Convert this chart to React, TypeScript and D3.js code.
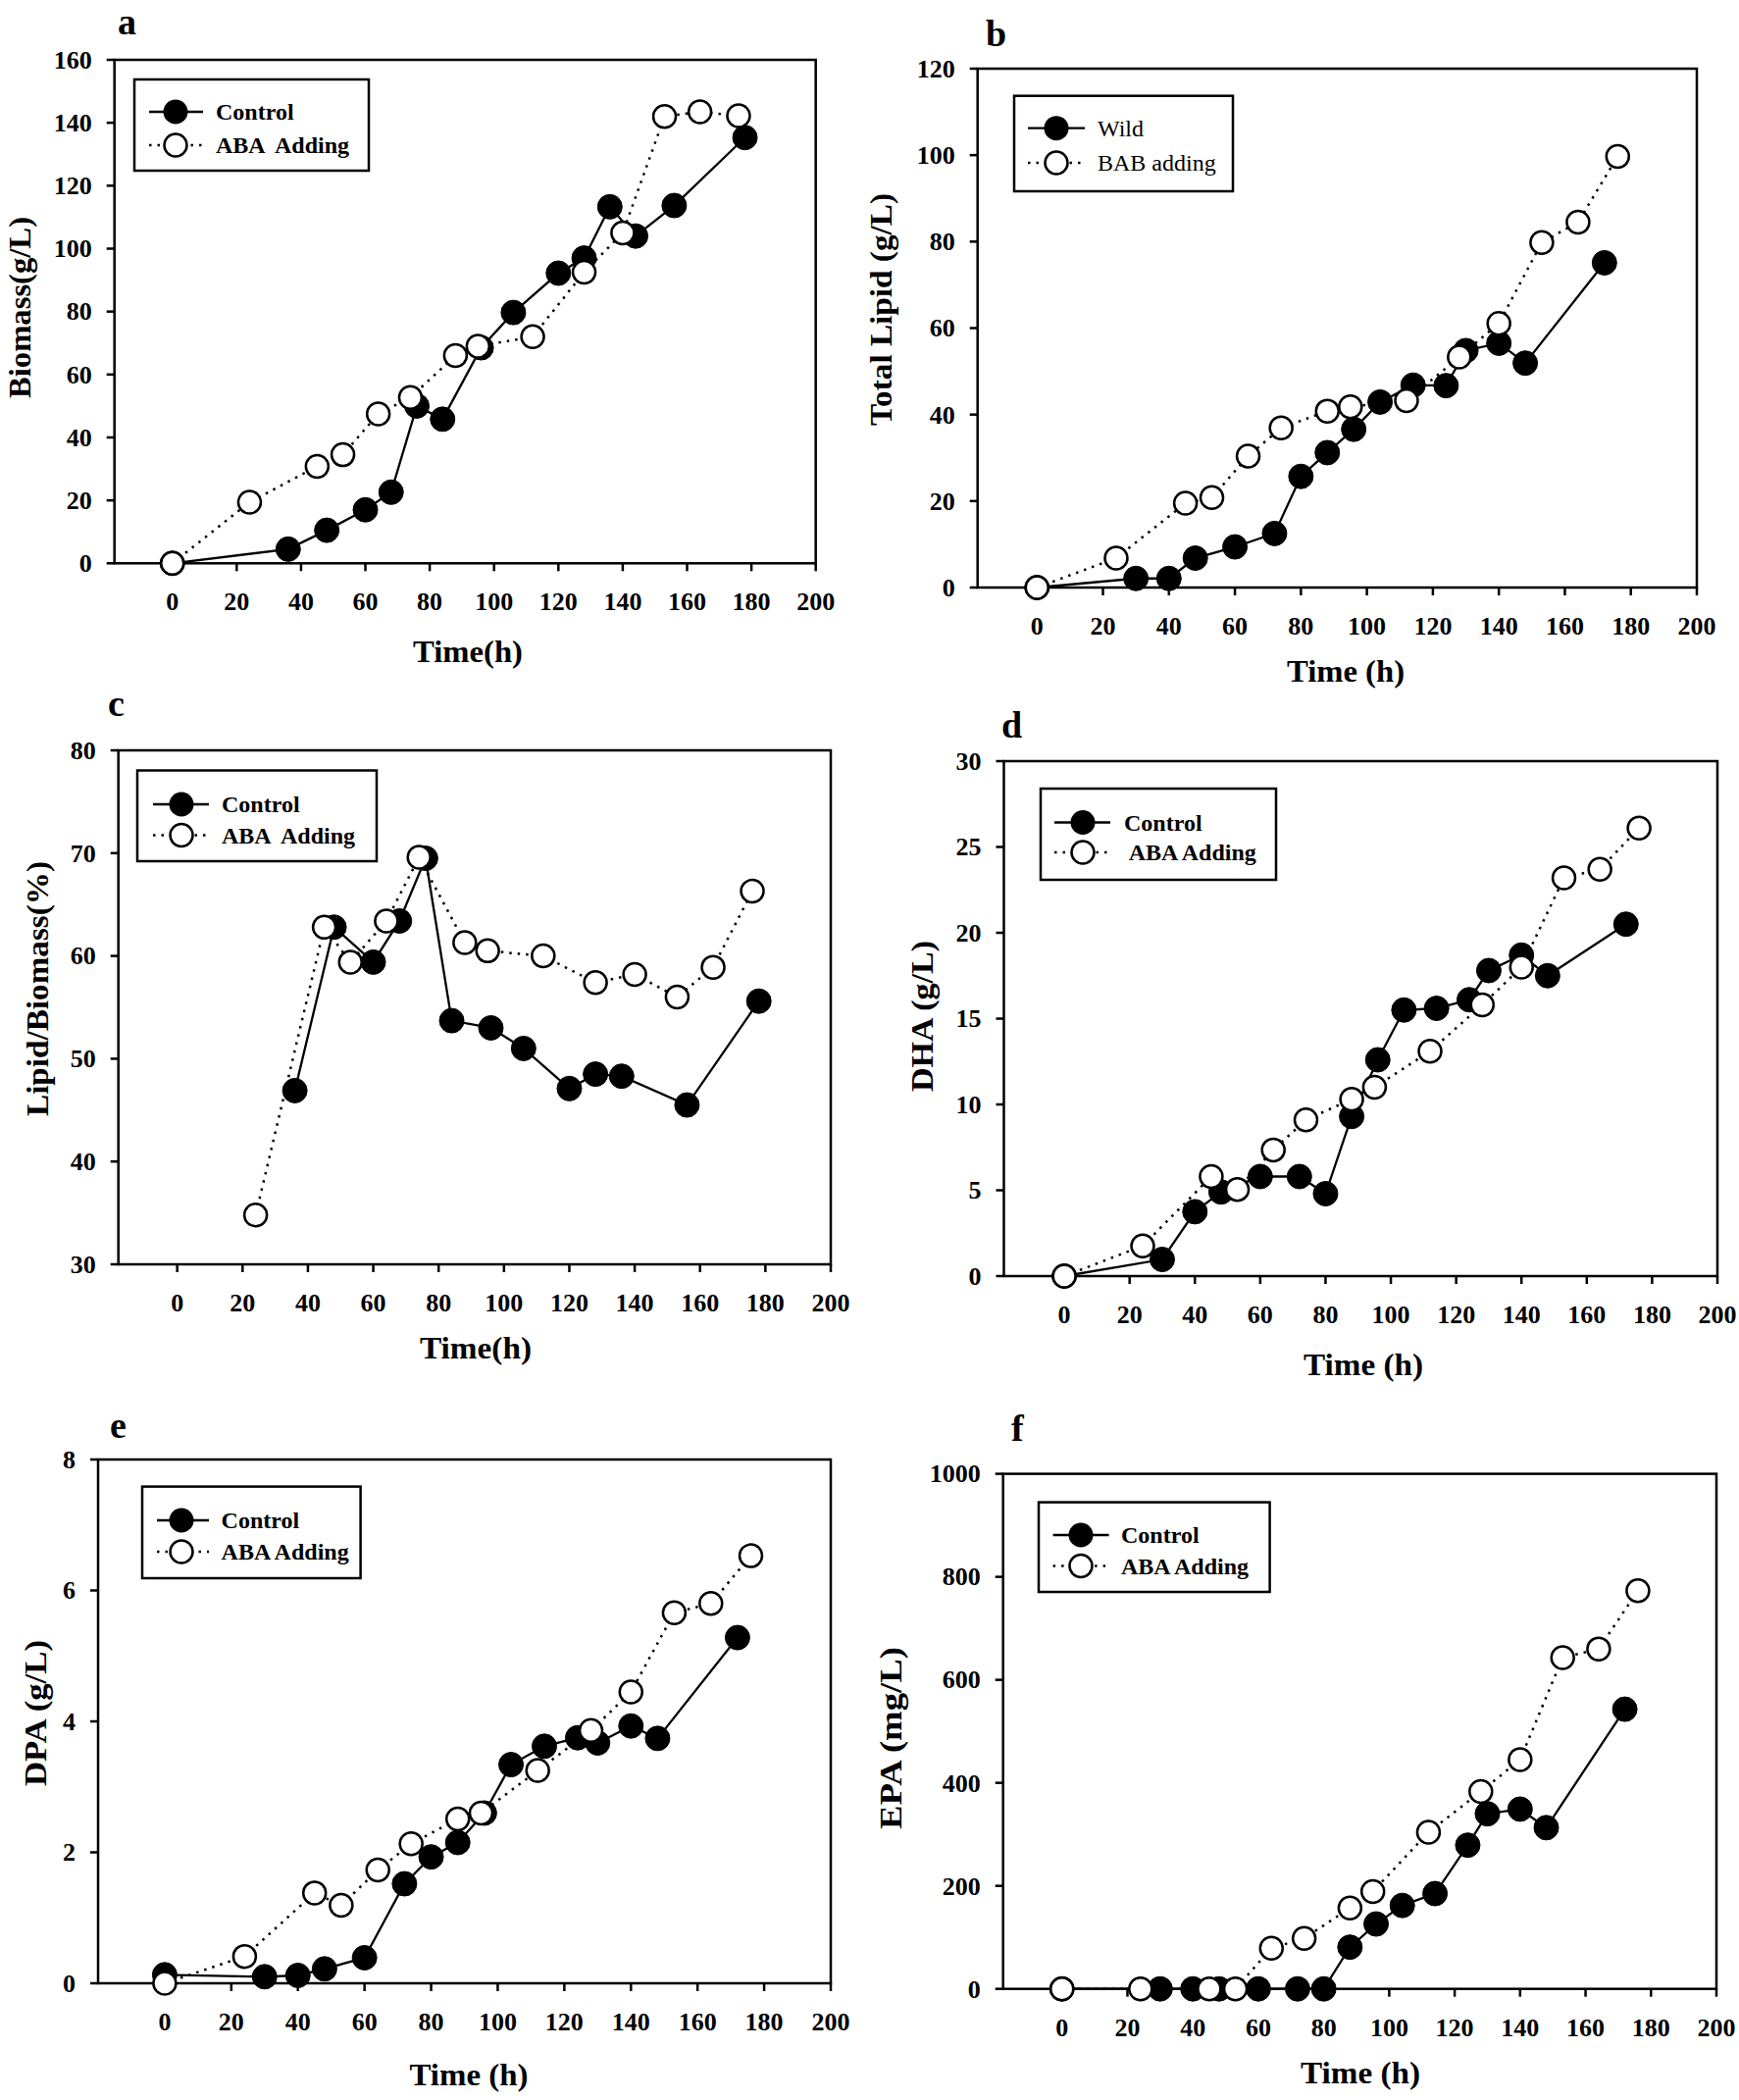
import React from "react";
import { line, range, scaleLinear } from "d3";

// values (time in h)
const ctrlTimeA = [0, 36, 48, 60, 68, 76, 84, 96, 106, 120, 128, 136, 144, 156, 178];
const biomassControl = [0, 4.5, 10.5, 17, 22.6, 50, 45.8, 68.5, 79.7, 92.2, 97, 113.3, 104, 113.7, 135.3];
const abaTime = [0, 24, 45, 53, 64, 74, 88, 95, 112, 128, 140, 153, 164, 176];
const biomassAba = [0, 19.4, 30.8, 34.5, 47.5, 52.7, 66, 69, 72, 92.5, 105, 142, 143.5, 142.2];

const ctrlTime = [0, 30, 40, 48, 60, 72, 80, 88, 96, 104, 114, 124, 130, 140, 148, 172];
const lipidWild = [0, 2.1, 2.1, 6.8, 9.4, 12.5, 25.7, 31.2, 36.6, 42.9, 46.8, 46.7, 54.8, 56.5, 51.9, 75.1];
const lipidBab = [0, 6.8, 19.5, 20.8, 30.4, 36.9, 40.8, 41.8, 43.2, 53.3, 61.1, 79.8, 84.5, 99.7];

const ctrlTimeC = [36, 48, 60, 68, 76, 84, 96, 106, 120, 128, 136, 156, 178];
const ratioControl = [46.9, 62.8, 59.4, 63.4, 69.5, 53.7, 53, 51, 47.1, 48.5, 48.3, 45.5, 55.6];
const abaTimeC = [24, 45, 53, 64, 74, 88, 95, 112, 128, 140, 153, 164, 176];
const ratioAba = [34.8, 62.8, 59.4, 63.4, 69.6, 61.3, 60.5, 60, 57.4, 58.2, 56, 58.9, 66.3];

const dhaControl = [0, 0.97, 3.75, 4.9, 5.8, 5.8, 4.8, 9.3, 12.6, 15.5, 15.6, 16.1, 17.8, 18.7, 17.5, 20.5];
const dhaAba = [0, 1.76, 5.8, 5.05, 7.35, 9.1, 10.3, 11, 13.1, 15.8, 18, 23.2, 23.7, 26.1];

const dpaControl = [0.13, 0.1, 0.12, 0.22, 0.39, 1.52, 1.93, 2.15, 2.6, 3.34, 3.62, 3.75, 3.67, 3.93, 3.74, 5.28];
const dpaAba = [0, 0.41, 1.38, 1.19, 1.73, 2.13, 2.51, 2.6, 3.25, 3.86, 4.45, 5.66, 5.8, 6.53];

const epaControl = [0, 0, 0, 0, 0, 0, 0, 81, 126, 162, 185, 279, 340, 349, 313, 543];
const epaAba = [0, 0, 0, 0, 79, 98, 157, 189, 304, 383, 445, 643, 660, 773];

const xTickValues = range(0, 201, 20);

const FONT = "'Liberation Serif', 'Times New Roman', serif";

const panels = [
  {
    letter: "a", letterPos: [120, 35],
    frame: { left: 116.7, top: 61, right: 831.7, bottom: 574.3 }, xMin: -18,
    yDomain: [0, 160], yStep: 20,
    yTitle: "Biomass(g/L)", yTitlePos: [20, 313.5], yTitleLen: 185,
    xTitle: "Time(h)", xTitlePos: [477, 675], xTitleLen: 112,
    legend: { box: [137, 81, 376, 174], rows: [114, 148], mx: 179, lx: [152, 207], tx: 220, bold: true,
      labels: ["Control", "ABA  Adding"] },
    control: [ctrlTimeA, biomassControl], treated: [abaTime, biomassAba],
  },
  {
    letter: "b", letterPos: [1005, 47],
    frame: { left: 996.7, top: 70, right: 1730, bottom: 599 }, xMin: -18,
    yDomain: [0, 120], yStep: 20,
    yTitle: "Total Lipid (g/L)", yTitlePos: [898, 315.5], yTitleLen: 237,
    xTitle: "Time (h)", xTitlePos: [1372, 695], xTitleLen: 120,
    legend: { box: [1034, 97.7, 1257, 195], rows: [130.7, 166], mx: 1077, lx: [1048, 1106], tx: 1119, bold: false,
      labels: ["Wild", "BAB adding"] },
    control: [ctrlTime, lipidWild], treated: [abaTime, lipidBab],
  },
  {
    letter: "c", letterPos: [110, 730],
    frame: { left: 120.7, top: 765, right: 847, bottom: 1289 }, xMin: -18,
    yDomain: [30, 80], yStep: 10,
    yTitle: "Lipid/Biomass(%)", yTitlePos: [38, 1008], yTitleLen: 260,
    xTitle: "Time(h)", xTitlePos: [485, 1385], xTitleLen: 114,
    legend: { box: [140, 785.5, 384, 878], rows: [820, 851.6], mx: 185, lx: [156, 213], tx: 226, bold: true,
      labels: ["Control", "ABA  Adding"] },
    control: [ctrlTimeC, ratioControl], treated: [abaTimeC, ratioAba],
  },
  {
    letter: "d", letterPos: [1021, 752],
    frame: { left: 1023.5, top: 776, right: 1751, bottom: 1301 }, xMin: -18.5,
    yDomain: [0, 30], yStep: 5,
    yTitle: "DHA (g/L)", yTitlePos: [940, 1036], yTitleLen: 154,
    xTitle: "Time (h)", xTitlePos: [1390, 1402], xTitleLen: 122,
    legend: { box: [1061, 804, 1301, 897], rows: [838.5, 869], mx: 1104, lx: [1075, 1132], tx: 1146, bold: true,
      labels: ["Control", " ABA Adding"] },
    control: [ctrlTime, dhaControl], treated: [abaTime, dhaAba],
  },
  {
    letter: "e", letterPos: [112, 1466],
    frame: { left: 100, top: 1488, right: 847, bottom: 2022 }, xMin: -20,
    yDomain: [0, 8], yStep: 2,
    yTitle: "DPA (g/L)", yTitlePos: [36, 1746.5], yTitleLen: 149,
    xTitle: "Time (h)", xTitlePos: [478, 2126], xTitleLen: 121,
    legend: { box: [145, 1515.6, 367.6, 1609], rows: [1550, 1582], mx: 185, lx: [160, 213], tx: 225.6, bold: true,
      labels: ["Control", "ABA Adding"] },
    control: [ctrlTime, dpaControl], treated: [abaTime, dpaAba],
  },
  {
    letter: "f", letterPos: [1031, 1469],
    frame: { left: 1022.7, top: 1502.6, right: 1750, bottom: 2027.7 }, xMin: -18,
    yDomain: [0, 1000], yStep: 200,
    yTitle: "EPA (mg/L)", yTitlePos: [908, 1772], yTitleLen: 186,
    xTitle: "Time (h)", xTitlePos: [1387, 2124], xTitleLen: 122,
    legend: { box: [1059, 1531.6, 1294.6, 1623], rows: [1565, 1596.5], mx: 1102, lx: [1073.6, 1130.6], tx: 1143, bold: true,
      labels: ["Control", "ABA Adding"] },
    control: [ctrlTime, epaControl], treated: [abaTime, epaAba],
  },
];

const R = 12.5;

function Panel({ p }: { p: any }) {
  const { frame } = p;
  const x = scaleLinear().domain([p.xMin, 200]).range([frame.left, frame.right]);
  const y = scaleLinear().domain(p.yDomain).range([frame.bottom, frame.top]);
  const yTicks = range(p.yDomain[0], p.yDomain[1] + p.yStep / 2, p.yStep);
  const gen = line<number[]>().x((d) => x(d[0])).y((d) => y(d[1]));
  const pts = (s: number[][]) => s[0].map((t, i) => [t, s[1][i]]);
  const ctrl = pts(p.control);
  const trt = pts(p.treated);
  const lg = p.legend;
  const lw = lg.bold ? "bold" : "normal";

  return (
    <g fontFamily={FONT} fill="#000">
      <text x={p.letterPos[0]} y={p.letterPos[1]} fontSize={38} fontWeight="bold">{p.letter}</text>

      <rect x={frame.left} y={frame.top} width={frame.right - frame.left} height={frame.bottom - frame.top}
        fill="none" stroke="#000" strokeWidth={2.5} />

      {xTickValues.map((t) => (
        <g key={"x" + t}>
          <line x1={x(t)} x2={x(t)} y1={frame.bottom} y2={frame.bottom + 8} stroke="#000" strokeWidth={2.5} />
          <text x={x(t)} y={frame.bottom + 48} fontSize={26} fontWeight="bold" textAnchor="middle">{t}</text>
        </g>
      ))}
      {yTicks.map((t) => (
        <g key={"y" + t}>
          <line x1={frame.left - 8} x2={frame.left} y1={y(t)} y2={y(t)} stroke="#000" strokeWidth={2.5} />
          <text x={frame.left - 23} y={y(t)} dy="0.34em" fontSize={26} fontWeight="bold" textAnchor="end">{t}</text>
        </g>
      ))}

      <text transform={`translate(${p.yTitlePos[0]},${p.yTitlePos[1]}) rotate(-90)`} x={-p.yTitleLen / 2}
        fontSize={32} fontWeight="bold" dominantBaseline="central"
        textLength={p.yTitleLen} lengthAdjust="spacingAndGlyphs">{p.yTitle}</text>
      <text x={p.xTitlePos[0] - p.xTitleLen / 2} y={p.xTitlePos[1]} fontSize={32} fontWeight="bold"
        textLength={p.xTitleLen} lengthAdjust="spacingAndGlyphs">{p.xTitle}</text>

      <path d={gen(ctrl) || ""} fill="none" stroke="#000" strokeWidth={2.3} />
      {ctrl.map((d, i) => (
        <circle key={"c" + i} cx={x(d[0])} cy={y(d[1])} r={R} fill="#000" stroke="#000" strokeWidth={1} />
      ))}
      <path d={gen(trt) || ""} fill="none" stroke="#000" strokeWidth={2.5} strokeDasharray="2.5 6" />
      {trt.map((d, i) => (
        <circle key={"t" + i} cx={x(d[0])} cy={y(d[1])} r={R - 1} fill="#fff" stroke="#000" strokeWidth={2.5} />
      ))}

      <rect x={lg.box[0]} y={lg.box[1]} width={lg.box[2] - lg.box[0]} height={lg.box[3] - lg.box[1]}
        fill="#fff" stroke="#000" strokeWidth={2.5} />
      <line x1={lg.lx[0]} x2={lg.lx[1]} y1={lg.rows[0]} y2={lg.rows[0]} stroke="#000" strokeWidth={2.3} />
      <circle cx={lg.mx} cy={lg.rows[0]} r={R} fill="#000" />
      <line x1={lg.lx[0]} x2={lg.lx[1]} y1={lg.rows[1]} y2={lg.rows[1]} stroke="#000" strokeWidth={2.5}
        strokeDasharray="2.5 6" />
      <circle cx={lg.mx} cy={lg.rows[1]} r={R - 1} fill="#fff" stroke="#000" strokeWidth={2.5} />
      {lg.labels.map((s: string, i: number) => (
        <text key={s} x={lg.tx} y={lg.rows[i]} dy="0.34em" fontSize={24} fontWeight={lw}
          style={{ whiteSpace: "pre" }}>{s}</text>
      ))}
    </g>
  );
}

export default function App() {
  return (
    <div style={{ position: "absolute", left: 0, top: 0 }}>
      <svg width={1773} height={2141} style={{ display: "block", background: "#fff" }}>
        <rect width={1773} height={2141} fill="#fff" />
        {panels.map((p) => (
          <Panel key={p.letter} p={p} />
        ))}
      </svg>
    </div>
  );
}
